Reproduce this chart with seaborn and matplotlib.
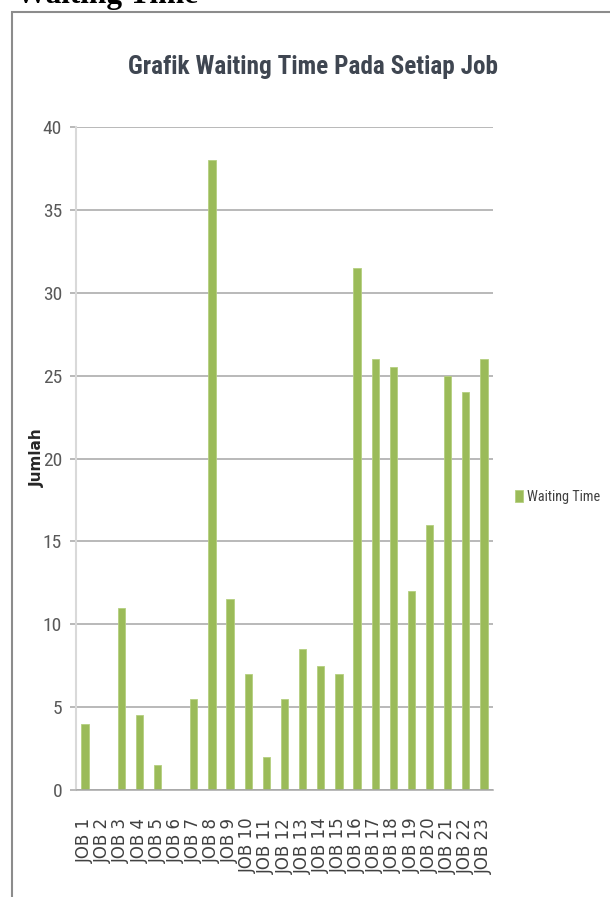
import matplotlib
matplotlib.use("Agg")
import matplotlib.pyplot as plt
from matplotlib.patches import Rectangle
from matplotlib import font_manager
import seaborn as sns
import pandas as pd

jobs = [f"JOB {i}" for i in range(1, 24)]
waiting_time = [4, 0, 11, 4.5, 1.5, 0, 5.5, 38, 11.5, 7, 2, 5.5, 8.5, 7.5, 7,
                31.5, 26, 25.5, 12, 16, 25, 24, 26]
y_ticks = [0, 5, 10, 15, 20, 25, 30, 35, 40]
series_name = "Waiting Time"
title = "Grafik Waiting Time Pada Setiap Job"
y_label = "Jumlah"
header = "Waiting Time"

sns.set_theme(style="white")
plt.rcParams["font.family"] = ["DejaVu Sans"]

installed = {f.name for f in font_manager.fontManager.ttflist}
narrow_pref = [n for n in ["Liberation Sans Narrow", "Roboto Condensed",
                           "Open Sans Condensed", "Roboto", "Liberation Sans"]
               if n in installed]
NARROW = narrow_pref[:1] + ["DejaVu Sans"]

W, H = 610, 897
fig = plt.figure(figsize=(W / 100, H / 100), dpi=100)
fig.patch.set_facecolor("white")
renderer = fig.canvas.get_renderer()


def fit_width(txt, target_px):
    fs = txt.get_fontsize()
    for _ in range(3):
        w = txt.get_window_extent(renderer=renderer).width
        fs = fs * target_px / w
        txt.set_fontsize(fs)


df = pd.DataFrame({"job": jobs, "value": waiting_time})

ax = fig.add_axes([76 / W, 1 - 790 / H, (493 - 76) / W, (790 - 127) / H])
sns.barplot(data=df, x="job", y="value", color="#9bbb59", saturation=1,
            width=0.4, label=series_name, ax=ax, edgecolor="#b5cf7f", linewidth=0.6)

ax.set_ylim(0, 40)
ax.set_xlim(-0.5, len(jobs) - 0.5)
ax.set_yticks(y_ticks)
ax.yaxis.grid(True, color="#a6a6a6", linewidth=1.1)
ax.set_axisbelow(True)
for s in ["top", "right"]:
    ax.spines[s].set_visible(False)
ax.spines["left"].set_color("#d9d9d9")
ax.spines["left"].set_linewidth(1.5)
ax.spines["bottom"].set_color("#a6a6a6")
ax.spines["bottom"].set_linewidth(1.1)

ax.tick_params(axis="y", length=4, width=1.1, color="#a6a6a6", pad=6, left=True)
ax.tick_params(axis="x", length=0, pad=20)
ax.set_xticks(range(len(jobs)))
ax.set_xticklabels(jobs, rotation=90, va="top", ha="center")
for lab in ax.get_xticklabels():
    lab.set_family(["DejaVu Sans"])
    lab.set_fontsize(12)
    lab.set_color("#404040")
for lab in ax.get_yticklabels():
    lab.set_family(NARROW)
    lab.set_fontsize(14)
    lab.set_color("#595959")

ax.set_xlabel("")
ax.set_ylabel("")
fig.text(37 / W, 1 - 458 / H, y_label, rotation=90, ha="center", va="center",
         fontsize=11, fontweight="bold", color="#262626", family=["DejaVu Sans"])

t = fig.text(313 / W, 1 - 67 / H, title, ha="center", va="center", fontsize=20,
             fontweight="bold", color="#3f4651", family=NARROW)
fit_width(t, 370)

leg = ax.legend(loc="center left", bbox_to_anchor=(515 / W, 1 - 497 / H),
                bbox_transform=fig.transFigure, frameon=False, borderpad=0,
                borderaxespad=0, handlelength=0.55, handleheight=0.8,
                handletextpad=0.25, prop={"family": NARROW, "size": 11})
for lt in leg.get_texts():
    lt.set_color("#404040")
    fit_width(lt, 73)

# outer frame of the embedded chart (right/bottom edges fall off the page)
fig.add_artist(Rectangle((12 / W, -0.05), 1.1, 1 - 12 / H + 0.05,
                         transform=fig.transFigure, fill=False,
                         edgecolor="#8c8c8c", linewidth=1.5))

fig.text(16 / W, 1 - 3.5 / H, header, ha="left", va="baseline", fontsize=22.5,
         fontweight="bold", color="black", family=["Liberation Serif", "DejaVu Serif"])

fig.savefig("out.png", dpi=100, facecolor="white")
